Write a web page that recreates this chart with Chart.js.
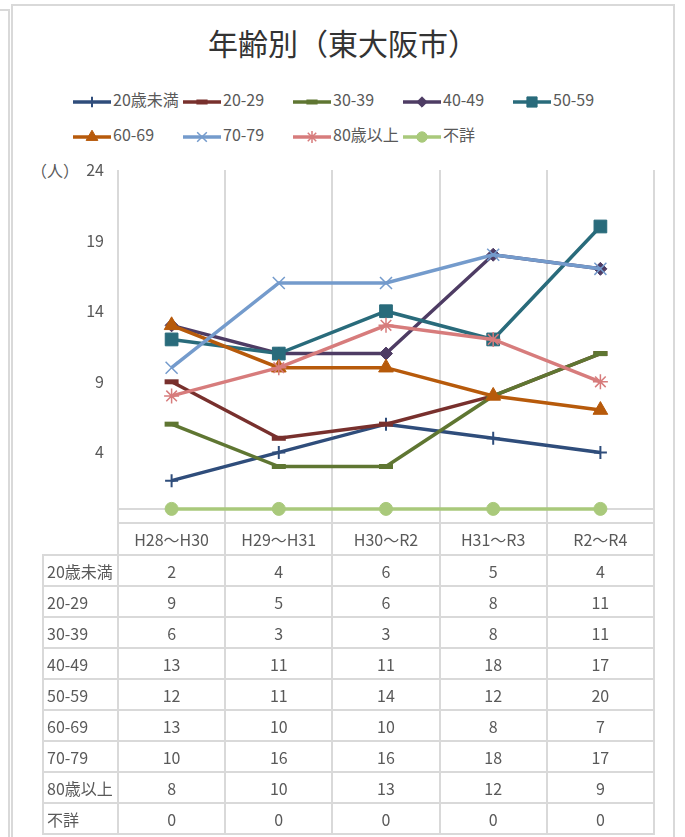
<!DOCTYPE html>
<html lang="ja">
<head>
<meta charset="UTF-8">
<script src="https://cdn.jsdelivr.net/npm/chart.js"></script>
<title>年齢別（東大阪市）</title>
<style>
  body { margin: 0; background: #fff; font-family: "Noto Sans CJK JP", sans-serif; color: #595959; }
  #wrap { position: relative; width: 685px; height: 837px; overflow: hidden; }
  .frame { position: absolute; border: 2px solid #d9d9d9; }
  #title { position: absolute; left: 11px; width: 664px; top: 24px; height: 36px; line-height: 36px;
           text-align: center; font-size: 30px; color: #333; }
  #legend .item { position: absolute; height: 20px; line-height: 20px; font-size: 16px; white-space: nowrap; }
  #legend canvas { vertical-align: middle; margin-right: 2px; }
  #unit { position: absolute; left: 31px; top: 160px; font-size: 16px; line-height: 20px; }
  #chart { position: absolute; left: 43px; top: 160px; }
  #table { position: absolute; border-collapse: collapse; table-layout: fixed; font-size: 16px; }
  #table td { border: 2px solid #d9d9d9; padding: 0; text-align: center; white-space: nowrap; }
  #table td.name { text-align: left; padding-left: 3px; }
  #table td.blank { border: none; }
</style>
</head>
<body>
<div id="wrap">
  <div class="frame" style="left:-100px; top:9px; width:106px; height:900px;"></div>
  <div class="frame" style="left:11px; top:4px; width:660px; height:900px;"></div>
  <div id="title">年齢別（東大阪市）</div>
  <div id="legend"></div>
  <div id="unit">（人）</div>
  <canvas id="chart" width="612" height="364"></canvas>
  <table id="table"></table>
</div>

<script>
// categories and values
const categories = ['H28～H30', 'H29～H31', 'H30～R2', 'H31～R3', 'R2～R4'];
const seriesNames = ['20歳未満', '20-29', '30-39', '40-49', '50-59', '60-69', '70-79', '80歳以上', '不詳'];

const under20  = [2, 4, 6, 5, 4];
const age20_29 = [9, 5, 6, 8, 11];
const age30_39 = [6, 3, 3, 8, 11];
const age40_49 = [13, 11, 11, 18, 17];
const age50_59 = [12, 11, 14, 12, 20];
const age60_69 = [13, 10, 10, 8, 7];
const age70_79 = [10, 16, 16, 18, 17];
const over80   = [8, 10, 13, 12, 9];
const unknown  = [0, 0, 0, 0, 0];

const seriesValues = [under20, age20_29, age30_39, age40_49, age50_59, age60_69, age70_79, over80, unknown];

// y axis: -1 .. 24 by 5 (ticks 4, 9, 14, 19, 24)
const yMin = -1, yMax = 24, yStep = 5;

// line colours and markers
const looks = [
  { color: '#2f4d7b', point: 'cross',    r: 6.5, bw: 2 },
  { color: '#78302d', point: 'line',     r: 7,   bw: 5 },
  { color: '#5f7632', point: 'line',     r: 7,   bw: 5 },
  { color: '#4e3c64', point: 'rectRot',  r: 6.5, bw: 1 },
  { color: '#296b7b', point: 'rect',     r: 9,   bw: 1 },
  { color: '#b75a0b', point: 'triangle', r: 8.5, bw: 1 },
  { color: '#749bcc', point: 'crossRot', r: 8.5, bw: 1.5 },
  { color: '#d77c7c', point: 'star',     r: 7.5, bw: 1.5 },
  { color: '#a9c97b', point: 'circle',   r: 6.5, bw: 1 },
];

Chart.defaults.font.family = '"Noto Sans CJK JP", sans-serif';
Chart.defaults.font.size = 16;
Chart.defaults.color = '#595959';

const datasets = seriesNames.map((name, i) => ({
  label: name,
  data: seriesValues[i],
  borderColor: looks[i].color,
  backgroundColor: looks[i].color,
  borderWidth: 3.5,
  tension: 0,
  pointStyle: looks[i].point,
  pointRadius: looks[i].r,
  pointHoverRadius: looks[i].r,
  pointBorderWidth: looks[i].bw,
  pointBackgroundColor: looks[i].color,
  pointBorderColor: looks[i].color,
  order: seriesNames.length - i
}));

// horizontal axis line drawn at value 0
const zeroLine = {
  id: 'zeroLine',
  beforeDatasetsDraw(chart) {
    const { ctx, chartArea, scales } = chart;
    const y = scales.y.getPixelForValue(0);
    ctx.save();
    ctx.strokeStyle = '#d9d9d9';
    ctx.lineWidth = 2;
    ctx.beginPath();
    ctx.moveTo(chartArea.left, y);
    ctx.lineTo(chartArea.right, y);
    ctx.stroke();
    ctx.restore();
  }
};

const chart = new Chart(document.getElementById('chart').getContext('2d'), {
  type: 'line',
  data: { labels: categories, datasets: datasets },
  options: {
    responsive: false,
    animation: false,
    layout: { autoPadding: false, padding: { top: 10, right: 1, bottom: 1, left: 0 } },
    plugins: { legend: { display: false }, tooltip: { enabled: false } },
    scales: {
      x: {
        offset: true,
        grid: { offset: true, color: '#d9d9d9', lineWidth: 2, drawTicks: false },
        border: { display: false },
        ticks: { display: false }
      },
      y: {
        min: yMin,
        max: yMax,
        grid: { display: false, drawTicks: false },
        border: { display: false },
        ticks: {
          stepSize: yStep,
          padding: 14,
          callback: v => v < 0 ? '' : v
        },
        afterFit: scale => {
          scale.width = 75;
          scale.paddingTop = 0;
          scale.paddingBottom = 0;
        }
      }
    }
  },
  plugins: [zeroLine]
});

// legend (line with marker, Excel-like grid)
const legend = document.getElementById('legend');
seriesNames.forEach((name, i) => {
  const item = document.createElement('div');
  item.className = 'item';
  item.style.left = (73 + (i % 5) * 110) + 'px';
  item.style.top = (i < 5 ? 89 : 124) + 'px';
  const icon = document.createElement('canvas');
  icon.width = 38; icon.height = 20;
  const c = icon.getContext('2d');
  c.strokeStyle = looks[i].color;
  c.fillStyle = looks[i].color;
  c.lineWidth = 3.5;
  c.beginPath(); c.moveTo(0, 10); c.lineTo(38, 10); c.stroke();
  c.lineWidth = looks[i].bw;
  if (Chart.helpers && Chart.helpers.drawPoint) {
    Chart.helpers.drawPoint(c, { pointStyle: looks[i].point, radius: looks[i].r * 0.8, borderWidth: looks[i].bw, rotation: 0 }, 19, 10);
  }
  item.appendChild(icon);
  item.appendChild(document.createTextNode(name));
  legend.appendChild(item);
});

// data table under the chart, aligned to the category bands
const area = chart.chartArea;
const colW = (area.right - area.left) / categories.length;
const table = document.getElementById('table');
table.style.left = (43 - 1) + 'px';
table.style.top = (160 + area.bottom - 1) + 'px';
let html = '<colgroup><col style="width:' + area.left + 'px">';
categories.forEach(() => { html += '<col style="width:' + colW + 'px">'; });
html += '</colgroup><tr style="height:32px"><td class="blank"></td>';
categories.forEach(cat => { html += '<td>' + cat + '</td>'; });
html += '</tr>';
seriesNames.forEach((name, i) => {
  html += '<tr style="height:31px"><td class="name">' + name + '</td>';
  seriesValues[i].forEach(v => { html += '<td>' + v + '</td>'; });
  html += '</tr>';
});
table.innerHTML = html;
table.style.width = (area.right + 1) + 'px';
</script>
</body>
</html>
